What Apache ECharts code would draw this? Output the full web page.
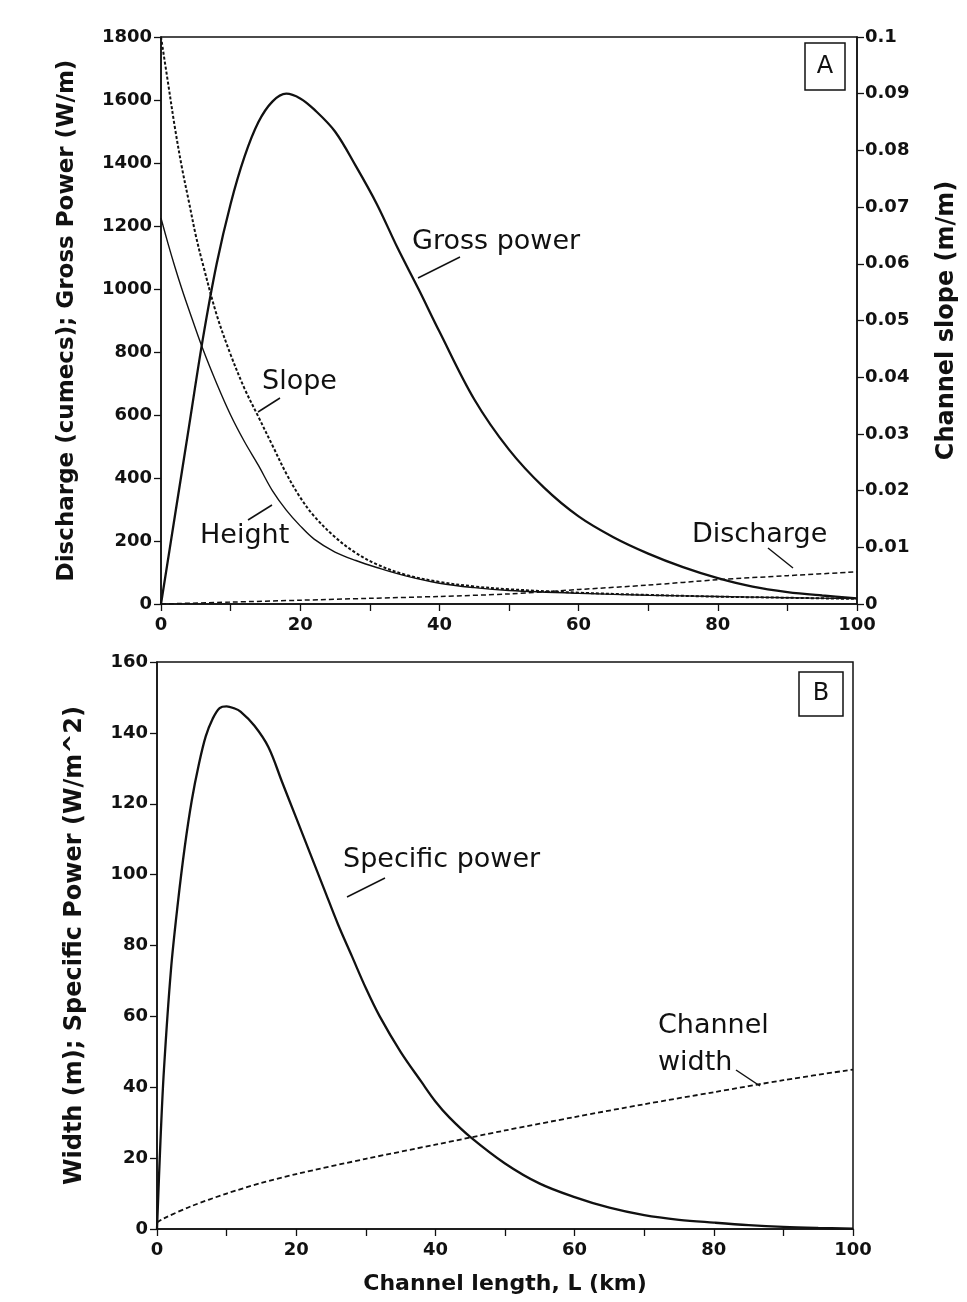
<!DOCTYPE html>
<html><head><meta charset="utf-8">
<script src="https://cdn.jsdelivr.net/npm/echarts/dist/echarts.min.js"></script>
<style>html,body{margin:0;padding:0;background:#fff}#c{width:967px;height:1302px}</style>
</head><body><div id="c"></div>
<script>
// Panel A — channel length (km) and values
const grossL = [0,2,4,6,8,10,12,14,16,18,20,22,25,28,31,34,37,40,45,50,55,60,65,70,75,80,85,90,95,100];
const grossP = [0,280,560,840,1080,1270,1420,1530,1595,1620,1605,1570,1500,1390,1270,1130,1000,865,650,490,370,278,212,160,117,82,55,38,27,18];
const heightL = [0,1,2,3,4,6,8,10,12,14,16,18,20,22,25,28,31,35,40,45,50,60,70,80,90,100];
const heightV = [1225,1145,1070,1000,935,810,700,600,515,440,360,298,248,206,165,138,116,90,66,52,43,34,28,24,20,17];
const slopeL = [0,1,2,3,4,5,6,8,10,12,14,16,18,20,22,25,28,31,35,40,45,50,60,70,80,90,100];
const slopeV = [0.100,0.092,0.084,0.077,0.071,0.065,0.060,0.051,0.044,0.038,0.033,0.028,0.023,0.0188,0.0155,0.0118,0.009,0.007,0.0052,0.0039,0.0031,0.0026,0.0020,0.0016,0.0013,0.0011,0.0009];
const dischL = [0,10,20,30,40,50,60,70,80,90,100];
const dischQ = [0,6,12,18,24,32,46,60,77,90,102];
// Panel B
const specL = [0,0.5,1,2,3,4,5,6,7,8,9,10,11,12,14,16,18,20,22,24,26,28,30,32,35,38,40,42,45,50,55,60,65,70,75,80,85,90,95,100];
const specP = [0,25,45,73,92,108,121,131,139,144,147,147.5,147,146,142,136,126,116,106,96,86,77,68,60,50,41.5,36,31.5,26,18.5,12.8,9,6,3.9,2.6,1.8,1.1,0.6,0.3,0.1];
const widthL = [0,1,5,10,15,20,30,40,50,60,70,80,90,100];
const widthV = [1.8,3,6.5,10,13,15.5,19.8,23.8,27.8,31.6,35.2,38.6,42,45];
// Axis text
const xName = 'Channel length, L (km)';
const yNameA = 'Discharge (cumecs); Gross Power (W/m)';
const yNameA2 = 'Channel slope (m/m)';
const yNameB = 'Width (m); Specific Power (W/m^2)';

const F = 'DejaVu Sans';
const INK = '#111';
function pairs(xs, ys){ return xs.map((x,i)=>[x, ys[i]]); }
const tickLbl = {fontFamily:F, fontWeight:'bold', fontSize:18, color:INK};
const nameStyle = {fontFamily:F, fontWeight:'bold', fontSize:23, color:INK};
const axLine = {show:true, lineStyle:{color:INK, width:1.5}};
const axTick = {show:true, inside:false, length:7, lineStyle:{color:INK, width:1.3}};

function xAx(g, extra){
  return Object.assign({gridIndex:g, type:'value', min:0, max:100, interval:10,
    axisLine:axLine, axisTick:axTick, splitLine:{show:false},
    axisLabel:Object.assign({}, tickLbl, {margin:12, formatter: v => (v % 20 === 0 ? String(v) : '')})}, extra||{});
}

const chart = echarts.init(document.getElementById('c'), null, {renderer:'canvas'});
const ann = (t, x, y) => ({type:'text', x:x, y:y, style:{text:t, fontFamily:F, fontSize:27, fill:INK, align:'left', verticalAlign:'middle'}});
const lead = (x1,y1,x2,y2) => ({type:'line', shape:{x1:x1,y1:y1,x2:x2,y2:y2}, style:{stroke:INK, lineWidth:1.5}});

chart.setOption({
  animation:false,
  backgroundColor:'#fff',
  grid:[
    {left:161, top:37, width:696, height:567, show:true, borderColor:INK, borderWidth:1.5, backgroundColor:'transparent'},
    {left:157, top:662, width:696, height:567, show:true, borderColor:INK, borderWidth:1.5, backgroundColor:'transparent'}
  ],
  xAxis:[
    xAx(0),
    xAx(1, {name:xName, nameLocation:'middle', nameGap:44, nameTextStyle:Object.assign({}, nameStyle, {fontSize:22})})
  ],
  yAxis:[
    {gridIndex:0, type:'value', min:0, max:1800, interval:200, position:'left',
     name:yNameA, nameLocation:'middle', nameRotate:90, nameGap:82, nameTextStyle:nameStyle,
     axisLine:axLine, axisTick:axTick, splitLine:{show:false},
     axisLabel:Object.assign({}, tickLbl, {margin:9, formatter: v => String(v)})},
    {gridIndex:0, type:'value', min:0, max:0.1, interval:0.01, position:'right',
     name:yNameA2, nameLocation:'middle', nameRotate:90, nameGap:78, nameTextStyle:Object.assign({}, nameStyle, {fontSize:24}),
     axisLine:axLine, axisTick:axTick, splitLine:{show:false},
     axisLabel:Object.assign({}, tickLbl, {margin:8, formatter: v => String(+v.toFixed(3))})},
    {gridIndex:1, type:'value', min:0, max:160, interval:20, position:'left',
     name:yNameB, nameLocation:'middle', nameRotate:90, nameGap:70, nameTextStyle:Object.assign({}, nameStyle, {fontSize:24}),
     axisLine:axLine, axisTick:axTick, splitLine:{show:false},
     axisLabel:Object.assign({}, tickLbl, {margin:9, formatter: v => String(v)})}
  ],
  series:[
    {name:'Gross power', type:'line', xAxisIndex:0, yAxisIndex:0, data:pairs(grossL, grossP), smooth:0.35, showSymbol:false, lineStyle:{color:INK, width:2.3}},
    {name:'Height', type:'line', xAxisIndex:0, yAxisIndex:0, data:pairs(heightL, heightV), smooth:0.35, showSymbol:false, lineStyle:{color:INK, width:1.4}},
    {name:'Slope', type:'line', xAxisIndex:0, yAxisIndex:1, data:pairs(slopeL, slopeV), smooth:0.35, showSymbol:false, lineStyle:{color:INK, width:2, type:[3,2]}},
    {name:'Discharge', type:'line', xAxisIndex:0, yAxisIndex:0, data:pairs(dischL, dischQ), smooth:0.3, showSymbol:false, lineStyle:{color:INK, width:1.5, type:[5,3]}},
    {name:'Specific power', type:'line', xAxisIndex:1, yAxisIndex:2, data:pairs(specL, specP), smooth:0.35, showSymbol:false, lineStyle:{color:INK, width:2.3}},
    {name:'Channel width', type:'line', xAxisIndex:1, yAxisIndex:2, data:pairs(widthL, widthV), smooth:0.3, showSymbol:false, lineStyle:{color:INK, width:1.8, type:[5,3]}}
  ],
  graphic:[
    ann('Gross power', 412, 242), lead(460,257,418,278),
    ann('Slope', 262, 382), lead(280,398,258,412),
    ann('Height', 200, 536), lead(272,505,248,520),
    ann('Discharge', 692, 535), lead(768,548,793,568),
    ann('Specific power', 343, 860), lead(385,878,347,897),
    ann('Channel', 658, 1026), ann('width', 658, 1063), lead(736,1070,760,1086),
    {type:'rect', shape:{x:805, y:43, width:40, height:47}, style:{fill:'#fff', stroke:INK, lineWidth:1.5}},
    {type:'text', x:825, y:67, style:{text:'A', fontFamily:F, fontSize:24, fill:INK, align:'center', verticalAlign:'middle'}},
    {type:'rect', shape:{x:799, y:672, width:44, height:44}, style:{fill:'#fff', stroke:INK, lineWidth:1.5}},
    {type:'text', x:821, y:694, style:{text:'B', fontFamily:F, fontSize:24, fill:INK, align:'center', verticalAlign:'middle'}}
  ]
});
</script></body></html>
